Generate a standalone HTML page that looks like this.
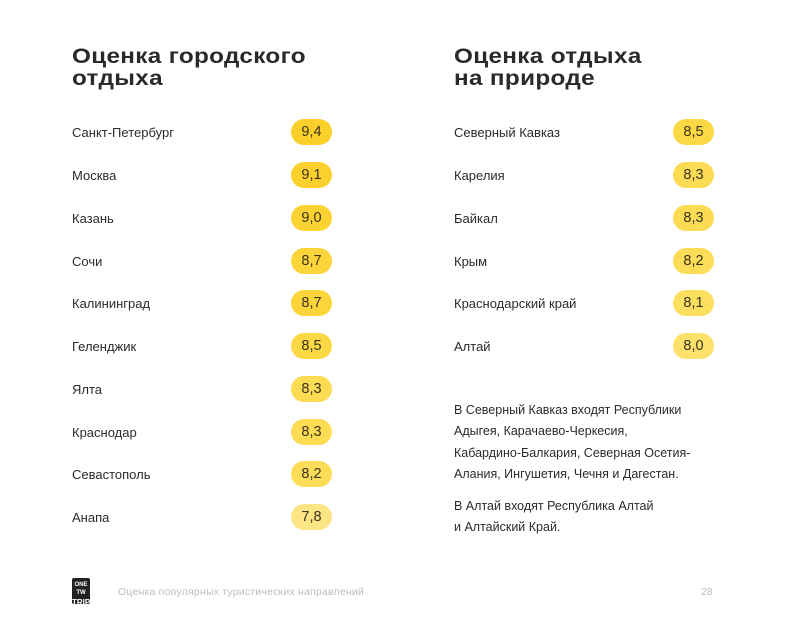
<!DOCTYPE html>
<html><head><meta charset="utf-8"><style>
body{margin:0;width:790px;height:633px;background:#fff;position:relative;font-family:"Liberation Sans",sans-serif;color:#2b2b2b;overflow:hidden}
.t{position:absolute;font-weight:bold;font-size:21px;line-height:22px;letter-spacing:0.3px;color:#2a2a2a;transform:scaleX(1.155);transform-origin:0 0;white-space:nowrap}
.r{position:absolute;font-size:13px;line-height:16px}
.p{position:absolute;width:41px;height:26px;border-radius:13px;text-align:center;line-height:27px;font-size:14.5px;color:#3a3320}
.n{position:absolute;left:454px;font-size:12.5px;line-height:21.3px;color:#2b2b2b}
</style></head><body>
<div class="t" style="left:72px;top:46px">Оценка городского<br>отдыха</div>
<div class="t" style="left:454px;top:46px">Оценка отдыха<br>на природе</div>

<div class="r" style="left:72px;top:125px">Санкт-Петербург</div><div class="p" style="left:291px;top:119px;background:#fcd02a">9,4</div>
<div class="r" style="left:72px;top:168px">Москва</div><div class="p" style="left:291px;top:162px;background:#fcd12e">9,1</div>
<div class="r" style="left:72px;top:211px">Казань</div><div class="p" style="left:291px;top:205px;background:#fcd332">9,0</div>
<div class="r" style="left:72px;top:254px">Сочи</div><div class="p" style="left:291px;top:248px;background:#fcd53a">8,7</div>
<div class="r" style="left:72px;top:296px">Калининград</div><div class="p" style="left:291px;top:290px;background:#fcd53a">8,7</div>
<div class="r" style="left:72px;top:339px">Геленджик</div><div class="p" style="left:291px;top:333px;background:#fdd845">8,5</div>
<div class="r" style="left:72px;top:382px">Ялта</div><div class="p" style="left:291px;top:376px;background:#fddb52">8,3</div>
<div class="r" style="left:72px;top:425px">Краснодар</div><div class="p" style="left:291px;top:419px;background:#fddb52">8,3</div>
<div class="r" style="left:72px;top:467px">Севастополь</div><div class="p" style="left:291px;top:461px;background:#fddd58">8,2</div>
<div class="r" style="left:72px;top:510px">Анапа</div><div class="p" style="left:291px;top:504px;background:#fde585">7,8</div>

<div class="r" style="left:454px;top:125px">Северный Кавказ</div><div class="p" style="left:673px;top:119px;background:#fdd845">8,5</div>
<div class="r" style="left:454px;top:168px">Карелия</div><div class="p" style="left:673px;top:162px;background:#fddb52">8,3</div>
<div class="r" style="left:454px;top:211px">Байкал</div><div class="p" style="left:673px;top:205px;background:#fddb52">8,3</div>
<div class="r" style="left:454px;top:254px">Крым</div><div class="p" style="left:673px;top:248px;background:#fddd58">8,2</div>
<div class="r" style="left:454px;top:296px">Краснодарский край</div><div class="p" style="left:673px;top:290px;background:#fddf60">8,1</div>
<div class="r" style="left:454px;top:339px">Алтай</div><div class="p" style="left:673px;top:333px;background:#fde16a">8,0</div>

<div class="n" style="top:400px">В Северный Кавказ входят Республики<br>Адыгея, Карачаево-Черкесия,<br>Кабардино-Балкария, Северная Осетия-<br>Алания, Ингушетия, Чечня и Дагестан.</div>
<div class="n" style="top:496px">В Алтай входят Республика Алтай<br>и Алтайский Край.</div>

<div style="position:absolute;left:72px;top:578px;width:18px;height:26px;background:#222;border-radius:2px;color:#fff;font-size:6px;font-weight:bold;text-align:center;line-height:8px;padding-top:3px;box-sizing:border-box;overflow:hidden">ONE TW<br><span style="font-size:8px;line-height:11px">TRIP</span></div>
<div style="position:absolute;left:118px;top:586px;font-size:10.5px;letter-spacing:0.2px;color:#bdbdbd">Оценка популярных туристических направлений</div>
<div style="position:absolute;left:701px;top:586px;font-size:10.5px;color:#bdbdbd">28</div>
</body></html>
